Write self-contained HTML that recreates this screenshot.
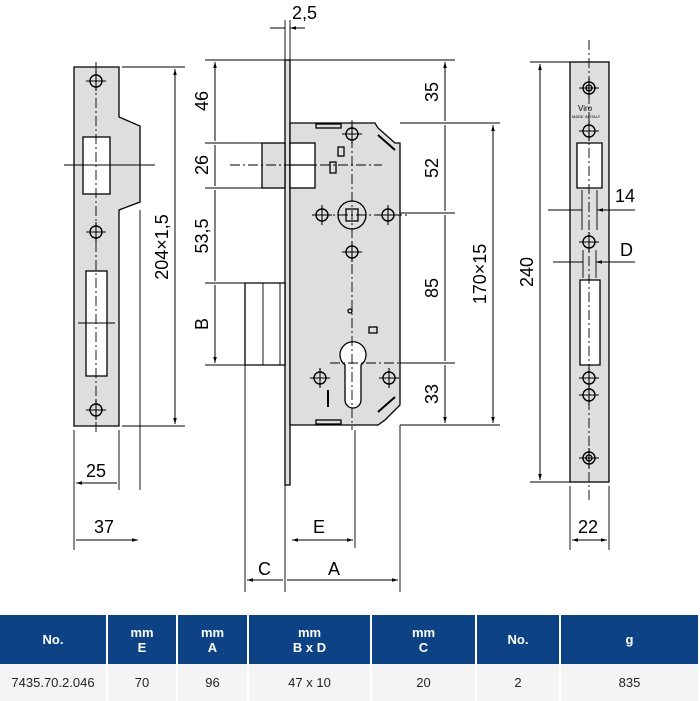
<!DOCTYPE html>
<html><head><meta charset="utf-8"><style>
body{margin:0;width:700px;height:700px;background:#fff;overflow:hidden;font-family:"Liberation Sans",sans-serif}
svg{position:absolute;left:0;top:0}
table{position:absolute;left:0;top:615px;width:700px;border-collapse:collapse;font-family:"Liberation Sans",sans-serif;font-size:13px;table-layout:fixed}
th{background:#0d4384;color:#fff;height:47px;border-right:2px solid #fff;font-weight:bold;line-height:15px}
td{background:#f4f4f4;height:35px;text-align:center;border-right:2px solid #fff;color:#222}
</style></head><body>
<svg width="700" height="615" viewBox="0 0 700 615">
<defs>
<marker id="a" viewBox="0 0 10 10" refX="10" refY="5" markerWidth="8" markerHeight="6" orient="auto-start-reverse"><path d="M0,2L10,5L0,8z" fill="#000"/></marker>
<g id="h"><circle r="6" fill="none" stroke="#000" stroke-width="1.4"/><path d="M-10,0H10M0,-10V10" stroke="#000" stroke-width="1.1"/></g>
<g id="h2"><circle r="6" fill="none" stroke="#000" stroke-width="1.4"/><circle r="3" fill="none" stroke="#000"/><path d="M-10,0H10M0,-10V10" stroke="#000" stroke-width="1.1"/></g>
</defs>
<g stroke="#000" stroke-width="1.3" fill="none">
<path d="M74,67H119V117L140,126V202L119,210V426H74Z" fill="#dedede"/>
<rect x="83" y="137" width="27" height="57" fill="#fff"/>
<rect x="86" y="271" width="21" height="105" fill="#fff"/>
<path d="M96,62V432" stroke-dasharray="10,3,2,3" stroke-width="0.9"/>
<path d="M64,165H155M78,323H115" stroke-width="0.9"/>
<use href="#h" x="96" y="81"/><use href="#h" x="96" y="232"/><use href="#h" x="96" y="410"/>
<path d="M122,67H185M122,426H185M140,210V490M74,430V550M119,430V490" stroke-width="0.9"/>
<path d="M175,69V424" marker-start="url(#a)" marker-end="url(#a)" stroke-width="1"/>
<path d="M76,483H117M76,540H138" marker-start="url(#a)" marker-end="url(#a)" stroke-width="1"/>
<rect x="285" y="60" width="5" height="425" fill="#dedede"/>
<path d="M290,123H375L378,128L395,143H400V405L385,420L378,425H290Z" fill="#dedede"/>
<rect x="262" y="143" width="23" height="45" fill="#dedede"/>
<rect x="290" y="143" width="25" height="45" fill="#fff"/>
<path d="M290,165H315"/>
<path d="M245,283H285V365H245Z" fill="#fff"/>
<path d="M245,283V365M263,283V365M280,283V365" stroke-width="0.9"/>
<rect x="316" y="124" width="25" height="4" fill="#dedede"/><rect x="316" y="420" width="25" height="4" fill="#dedede"/>
<rect x="338" y="147" width="6" height="9"/><rect x="330" y="162" width="6" height="11"/>
<circle cx="352" cy="215" r="14"/><rect x="346" y="209" width="12" height="12"/>
<use href="#h" x="322" y="215"/><use href="#h" x="388" y="215"/><use href="#h" x="352" y="252"/><use href="#h" x="352" y="134"/>
<use href="#h" x="320" y="378"/><use href="#h" x="389" y="378"/>
<circle cx="350" cy="311" r="2"/><rect x="369" y="327" width="8" height="6"/>
<path d="M345,365A13,13 0 1 1 361,365V400A8,8 0 0 1 345,400Z" fill="#fff"/>
<path d="M328,390V407" stroke-width="2"/>
<path d="M378,135L395,150M378,412L395,397" stroke-width="2"/>
<path d="M352,120V430M230,165H382M320,215H410M330,363H410" stroke-dasharray="10,3,2,3" stroke-width="0.9"/>
<path d="M285,20V60M290,20V60" stroke-width="0.9"/>
<path d="M270,28H285M305,28H290" marker-end="url(#a)" stroke-width="1"/>
<path d="M205,60H285M205,143H262M205,188H262M205,283H245M205,365H245" stroke-width="0.9"/>
<path d="M290,60H455M400,123H500M400,213H455M400,363H455M400,425H500" stroke-width="0.9"/>
<path d="M215,62V141M215,145V186M215,190V281M215,285V363" marker-start="url(#a)" marker-end="url(#a)" stroke-width="1"/>
<path d="M445,62V121M445,125V211M445,215V361M445,365V423" marker-start="url(#a)" marker-end="url(#a)" stroke-width="1"/>
<path d="M493,125V423" marker-start="url(#a)" marker-end="url(#a)" stroke-width="1"/>
<path d="M245,365V592M285,485V592M355,430V548M400,425V592" stroke-width="0.9"/>
<path d="M292,540H353" marker-start="url(#a)" marker-end="url(#a)" stroke-width="1"/>
<path d="M247,580H283M287,580H398" marker-start="url(#a)" marker-end="url(#a)" stroke-width="1"/>
<rect x="570" y="62" width="39" height="420" fill="#dedede"/>
<path d="M577,143H602V188H577Z" fill="#fff"/>
<path d="M580,280H600V365H580Z" fill="#fff"/>
<path d="M589,40V500" stroke-dasharray="10,3,2,3" stroke-width="0.9"/>
<use href="#h2" x="589" y="88"/><use href="#h" x="589" y="131"/><use href="#h" x="589" y="242"/><use href="#h" x="589" y="378"/><use href="#h" x="589" y="395"/><use href="#h2" x="589" y="458"/>
<path d="M530,62H570M530,482H570M570,486V550M609,486V550M582,190V230M597,190V230M583,250V278M596,250V278" stroke-width="0.9"/>
<path d="M540,64V480" marker-start="url(#a)" marker-end="url(#a)" stroke-width="1"/>
<path d="M548,210H582M635,210H597" marker-end="url(#a)" stroke-width="1"/>
<path d="M553,262H583M635,262H596" marker-end="url(#a)" stroke-width="1"/>
<path d="M572,540H607" marker-start="url(#a)" marker-end="url(#a)" stroke-width="1"/>
</g>
<g font-family="Liberation Sans,sans-serif" font-size="18" fill="#000">
<text x="86" y="477">25</text><text x="94" y="533">37</text>
<text x="292" y="19">2,5</text>
<text x="313" y="533">E</text><text x="258" y="575">C</text><text x="328" y="575">A</text>
<text x="615" y="202">14</text><text x="620" y="256">D</text><text x="578" y="533">22</text>
<text font-size="8" x="578" y="111">Viro</text><text font-size="4" x="572" y="118">MADE IN ITALY</text>
<g text-anchor="middle">
<text transform="translate(168,247) rotate(-90)">204×1,5</text>
<text transform="translate(208,101) rotate(-90)">46</text>
<text transform="translate(208,165) rotate(-90)">26</text>
<text transform="translate(208,236) rotate(-90)">53,5</text>
<text transform="translate(208,324) rotate(-90)">B</text>
<text transform="translate(438,92) rotate(-90)">35</text>
<text transform="translate(438,168) rotate(-90)">52</text>
<text transform="translate(438,288) rotate(-90)">85</text>
<text transform="translate(438,394) rotate(-90)">33</text>
<text transform="translate(486,274) rotate(-90)">170×15</text>
<text transform="translate(533,272) rotate(-90)">240</text>
</g></g>
</svg>
<table><colgroup><col style="width:107px"><col style="width:70px"><col style="width:71px"><col style="width:123px"><col style="width:105px"><col style="width:84px"><col></colgroup>
<tr><th>No.</th><th>mm<br>E</th><th>mm<br>A</th><th>mm<br>B x D</th><th>mm<br>C</th><th>No.</th><th>g</th></tr>
<tr><td>7435.70.2.046</td><td>70</td><td>96</td><td>47 x 10</td><td>20</td><td>2</td><td>835</td></tr>
</table>
</body></html>
